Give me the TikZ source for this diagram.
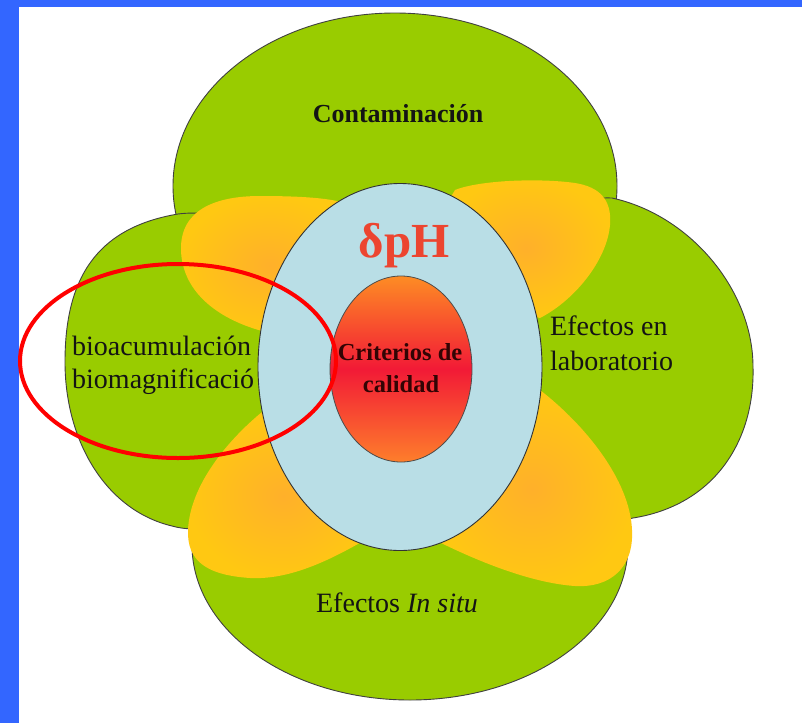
\documentclass[tikz,border=0pt]{standalone}
\usepackage{fontspec}
\setmainfont{Liberation Serif}
\definecolor{bandblue}{HTML}{3366FF}
\definecolor{leafgreen}{HTML}{99CC00}
\definecolor{petalrim}{HTML}{FFC812}
\definecolor{petalcore}{HTML}{FFB02A}
\definecolor{paleblue}{HTML}{B9DEE6}
\definecolor{coretop}{HTML}{FF9A22}
\definecolor{corebot}{HTML}{FF8A2A}
\definecolor{corered}{HTML}{F21A36}
\definecolor{deltared}{HTML}{EC4530}
\definecolor{inktext}{HTML}{141414}
\definecolor{coretext}{HTML}{320404}
\pgfdeclareverticalshading{coreshade}{100bp}{color(0bp)=(corebot); color(22bp)=(corebot); color(50bp)=(corered); color(78bp)=(coretop); color(100bp)=(coretop)}
\begin{document}
\begin{tikzpicture}[x=1pt,y=-1pt,
  greenpart/.style={fill=leafgreen, draw=black!75, line width=0.9pt},
  petal/.style={inner color=petalcore, outer color=petalrim},
  ringline/.style={draw=black!80, line width=0.9pt},
  lbltext/.style={inner sep=0pt, text=inktext, font=\fontsize{28}{33}\selectfont},
  coretxt/.style={inner sep=0pt, text=coretext, font=\fontsize{24.5}{30}\selectfont\bfseries, anchor=base},
]
% page and frame bands
\fill[white] (0,0) rectangle (802,723);
\useasboundingbox (0,0) rectangle (802,723);
\fill[bandblue] (0,0) rectangle (19,723);
\fill[bandblue] (0,0) rectangle (802,7);

% four green lobes
\path[greenpart] (395,186) ellipse [x radius=222pt, y radius=173pt];
\path[greenpart] (178,214) .. controls (95,228) and (65,280) .. (65,362)
  .. controls (65,440) and (105,510) .. (172,526)
  .. controls (240,545) and (345,470) .. (345,370)
  .. controls (345,260) and (250,205) .. (178,214) -- cycle;
\path[greenpart] (612,198) .. controls (690,215) and (753,290) .. (753,367)
  .. controls (755,440) and (715,505) .. (633,518)
  .. controls (560,535) and (470,470) .. (470,367)
  .. controls (470,250) and (560,195) .. (612,198) -- cycle;
\path[greenpart] (410,545) ellipse [x radius=218pt, y radius=155pt];

% yellow overlaps
\path[petal] (262,331) .. controls (215,318) and (182,290) .. (181,250)
  .. controls (180,210) and (215,196) .. (260,196)
  .. controls (300,196) and (335,198) .. (350,205)
  -- (360,300) -- (300,335) -- cycle;
\path[petal] (455,190) .. controls (480,180) and (540,178) .. (575,183)
  .. controls (600,187) and (612,200) .. (610,225)
  .. controls (607,260) and (575,300) .. (540,318)
  -- (470,300) -- (440,215) -- cycle;
\path[petal] (262,412) .. controls (228,440) and (190,485) .. (188,530)
  .. controls (187,560) and (205,575) .. (250,578)
  .. controls (290,580) and (330,560) .. (365,540)
  -- (380,470) -- (300,420) -- cycle;
\path[petal] (540,390) .. controls (585,425) and (630,480) .. (632,530)
  .. controls (634,568) and (610,588) .. (575,586)
  .. controls (530,583) and (475,560) .. (435,540)
  -- (430,470) -- (500,400) -- cycle;

% central rings
\path[fill=paleblue, ringline] (400,367) ellipse [x radius=142pt, y radius=183.5pt];
\path[shade, shading=coreshade, draw=black!70, line width=0.8pt] (401,369) ellipse [x radius=71pt, y radius=93pt];

% texts
\node[lbltext, anchor=base, font=\fontsize{26}{30}\selectfont\bfseries] (contam) at (398,122) {Contaminación};
\node[inner sep=0pt, anchor=base, text=deltared, font=\fontsize{49}{54}\selectfont\bfseries] (dph) at (404,257) {δpH};
\node[coretxt] (crit1) at (400,360) {Criterios de};
\node[coretxt] (crit2) at (401,392) {calidad};
\node[lbltext, anchor=base west] (lab1) at (550,335) {Efectos en};
\node[lbltext, anchor=base west] (lab2) at (550,370) {laboratorio};
\node[lbltext, anchor=base west] (bio1) at (72,355) {bioacumulación};
\node[lbltext, anchor=base west] (bio2) at (72,388) {biomagnificació};
\node[lbltext, anchor=base] (situ) at (397,612) {Efectos \textit{In situ}};

% highlight ring
\draw[red, line width=4pt] (178,361) ellipse [x radius=158pt, y radius=97pt];
\end{tikzpicture}
\end{document}
